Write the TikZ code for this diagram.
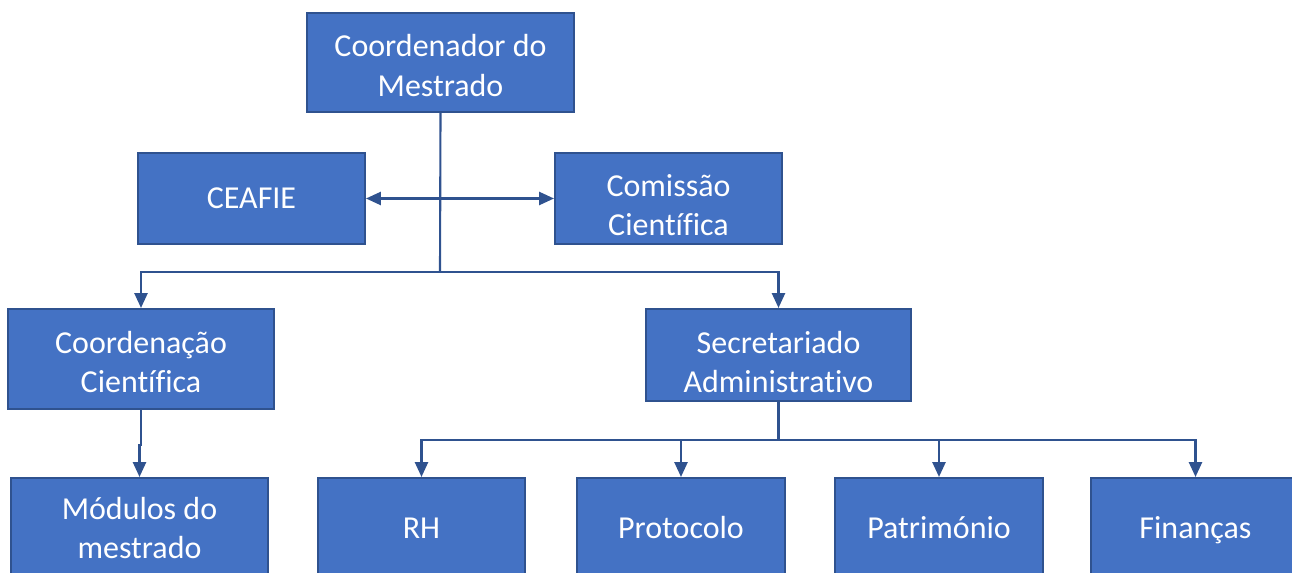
\documentclass[tikz,border=0pt]{standalone}
\usepackage{fontspec}
\setmainfont[Ligatures=NoCommon]{Carlito}
\usetikzlibrary{positioning,arrows.meta}
\definecolor{boxblue}{HTML}{4472C4}
\definecolor{boxline}{HTML}{2F528F}

\begin{document}
\begin{tikzpicture}[x=0.02cm,y=-0.02cm,inner sep=0.4mm,
  box/.style={draw=boxline,line width=1.2pt,fill=boxblue,text=white,align=center,
    font=\fontsize{18.2pt}{22.3pt}\selectfont},
  single/.style={text height=11.5pt,text depth=0pt},
  link/.style={draw=boxline,line width=1.2pt},
  tip/.style={-{Triangle[length=8.5pt,width=7.5pt]}}]
\useasboundingbox (0,0) rectangle (1292,573);
\clip (0,0) rectangle (1292,573);

\node (coord) at (440.5,62.5) [box,minimum width=5.34cm,minimum height=1.98cm]{\rule{0pt}{16pt}Coordenador do\\Mestrado};
\node (ceafie) at (251.5,198.5) [box,single,minimum width=4.54cm,minimum height=1.82cm]{CEAFIE};
\node (comis) at (668.5,198.5) [box,minimum width=4.54cm,minimum height=1.82cm]{\rule{0pt}{20.5pt}Comissão\\Científica};
\node (coordc) at (141,359) [box,minimum width=5.32cm,minimum height=2cm]{\rule{0pt}{16pt}Coordenação\\Científica};
\node (secad) at (778.5,355) [box,minimum width=5.3cm,minimum height=1.84cm]{\rule{0pt}{20.5pt}Secretariado\\Administrativo};
\node (mod) at (139.5,528) [box,minimum width=5.14cm,minimum height=2cm]{Módulos do\\mestrado};
\node (rh) at (421.5,528) [box,single,minimum width=4.14cm,minimum height=2cm]{RH};
\node (prot) at (681,528) [box,single,minimum width=4.16cm,minimum height=2cm]{Protocolo};
\node (patr) at (939,528) [box,single,minimum width=4.16cm,minimum height=2cm]{Património};
\node (fin) at (1195.5,528) [box,single,minimum width=4.18cm,minimum height=2cm]{Finanças};

\coordinate (hub) at (440,272);
\coordinate (subhub) at (778.5,440);

\draw[link] (coord.south) -- (hub);
\draw[link,{Triangle[length=8.5pt,width=7.5pt]}-{Triangle[length=8.5pt,width=7.5pt]}] (ceafie.east) -- (comis.west);
\draw[link,tip] (hub) -| (coordc.north);
\draw[link,tip] (hub) -| (secad.north);
\draw[link,tip] (coordc.south) -- ++(0,35) -| (mod.north);

\draw[link] (secad.south) -- (subhub);
\foreach \n in {rh,prot,patr,fin}
  \draw[link,tip] (subhub) -| (\n.north);

\end{tikzpicture}
\end{document}
